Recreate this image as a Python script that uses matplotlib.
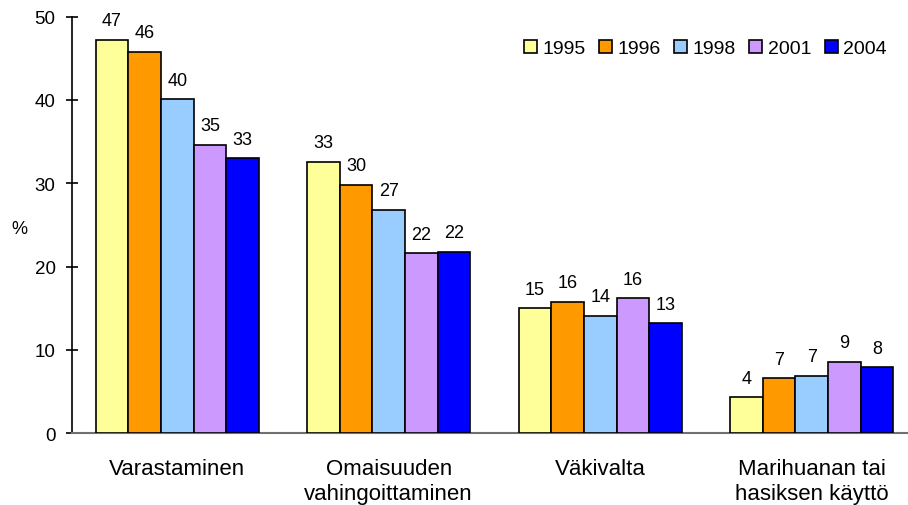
import matplotlib
matplotlib.use("Agg")
import matplotlib.pyplot as plt
import numpy as np

categories = ["Varastaminen", "Omaisuuden\nvahingoittaminen", "Väkivalta", "Marihuanan tai\nhasiksen käyttö"]
years = ["1995", "1996", "1998", "2001", "2004"]
values = {
    "1995": [47.2, 32.6, 15.0, 4.3],
    "1996": [45.8, 29.8, 15.8, 6.6],
    "1998": [40.1, 26.8, 14.1, 6.9],
    "2001": [34.6, 21.6, 16.2, 8.6],
    "2004": [33.0, 21.8, 13.2, 7.9],
}
colors = ["#FFFF99", "#FF9900", "#99CCFF", "#CC99FF", "#0000FF"]
yticks = [0, 10, 20, 30, 40, 50]

plt.rcParams['font.family'] = ['Liberation Sans', 'DejaVu Sans']

fig = plt.figure(figsize=(9.08, 5.06), dpi=100)
W, H = 908, 506
left_px, right_px, top_px, bot_px = 71.5, 917.4, 17.5, 434.3
ax = fig.add_axes([left_px / W, 1 - bot_px / H, (right_px - left_px) / W, (bot_px - top_px) / H])

x = np.arange(len(categories))
bw = 0.1545
for i, (yr, col) in enumerate(zip(years, colors)):
    offs = (i - 2) * bw
    bars = ax.bar(x + offs, values[yr], width=bw, color=col, edgecolor="black", linewidth=1.2, label=yr, zorder=3)
    ax.bar_label(bars, fmt="%.0f", padding=7.5, fontsize=13)

ax.set_xlim(-0.5, 3.5)
ax.set_ylim(0, 50)
ax.set_yticks(yticks)
ax.tick_params(axis='y', direction='inout', length=9, width=1.2, labelsize=13.5, pad=7)
ax.set_xticks(x)
ax.set_xticklabels(categories, fontsize=16, linespacing=1.25)
ax.tick_params(axis='x', length=0, pad=18)

for s in ["top", "right"]:
    ax.spines[s].set_visible(False)
ax.spines["left"].set_linewidth(1.2)
ax.spines["bottom"].set_linewidth(1.5)
ax.spines["bottom"].set_color("#707070")

ax.set_ylabel("%", rotation=0, fontsize=13, va="center", ha="center")
ax.yaxis.set_label_coords((19 - left_px) / (right_px - left_px), (bot_px - 230) / (bot_px - top_px))

leg = fig.legend(loc="center right", bbox_to_anchor=(887 / W, 1 - 49.5 / H), ncol=5, frameon=False,
                 fontsize=14, handlelength=0.67, handleheight=0.67, handletextpad=0.3,
                 columnspacing=0.67, borderpad=0, borderaxespad=0)
for h in leg.legend_handles:
    h.set_linewidth(1.2)

fig.savefig("out.png", dpi=100)
